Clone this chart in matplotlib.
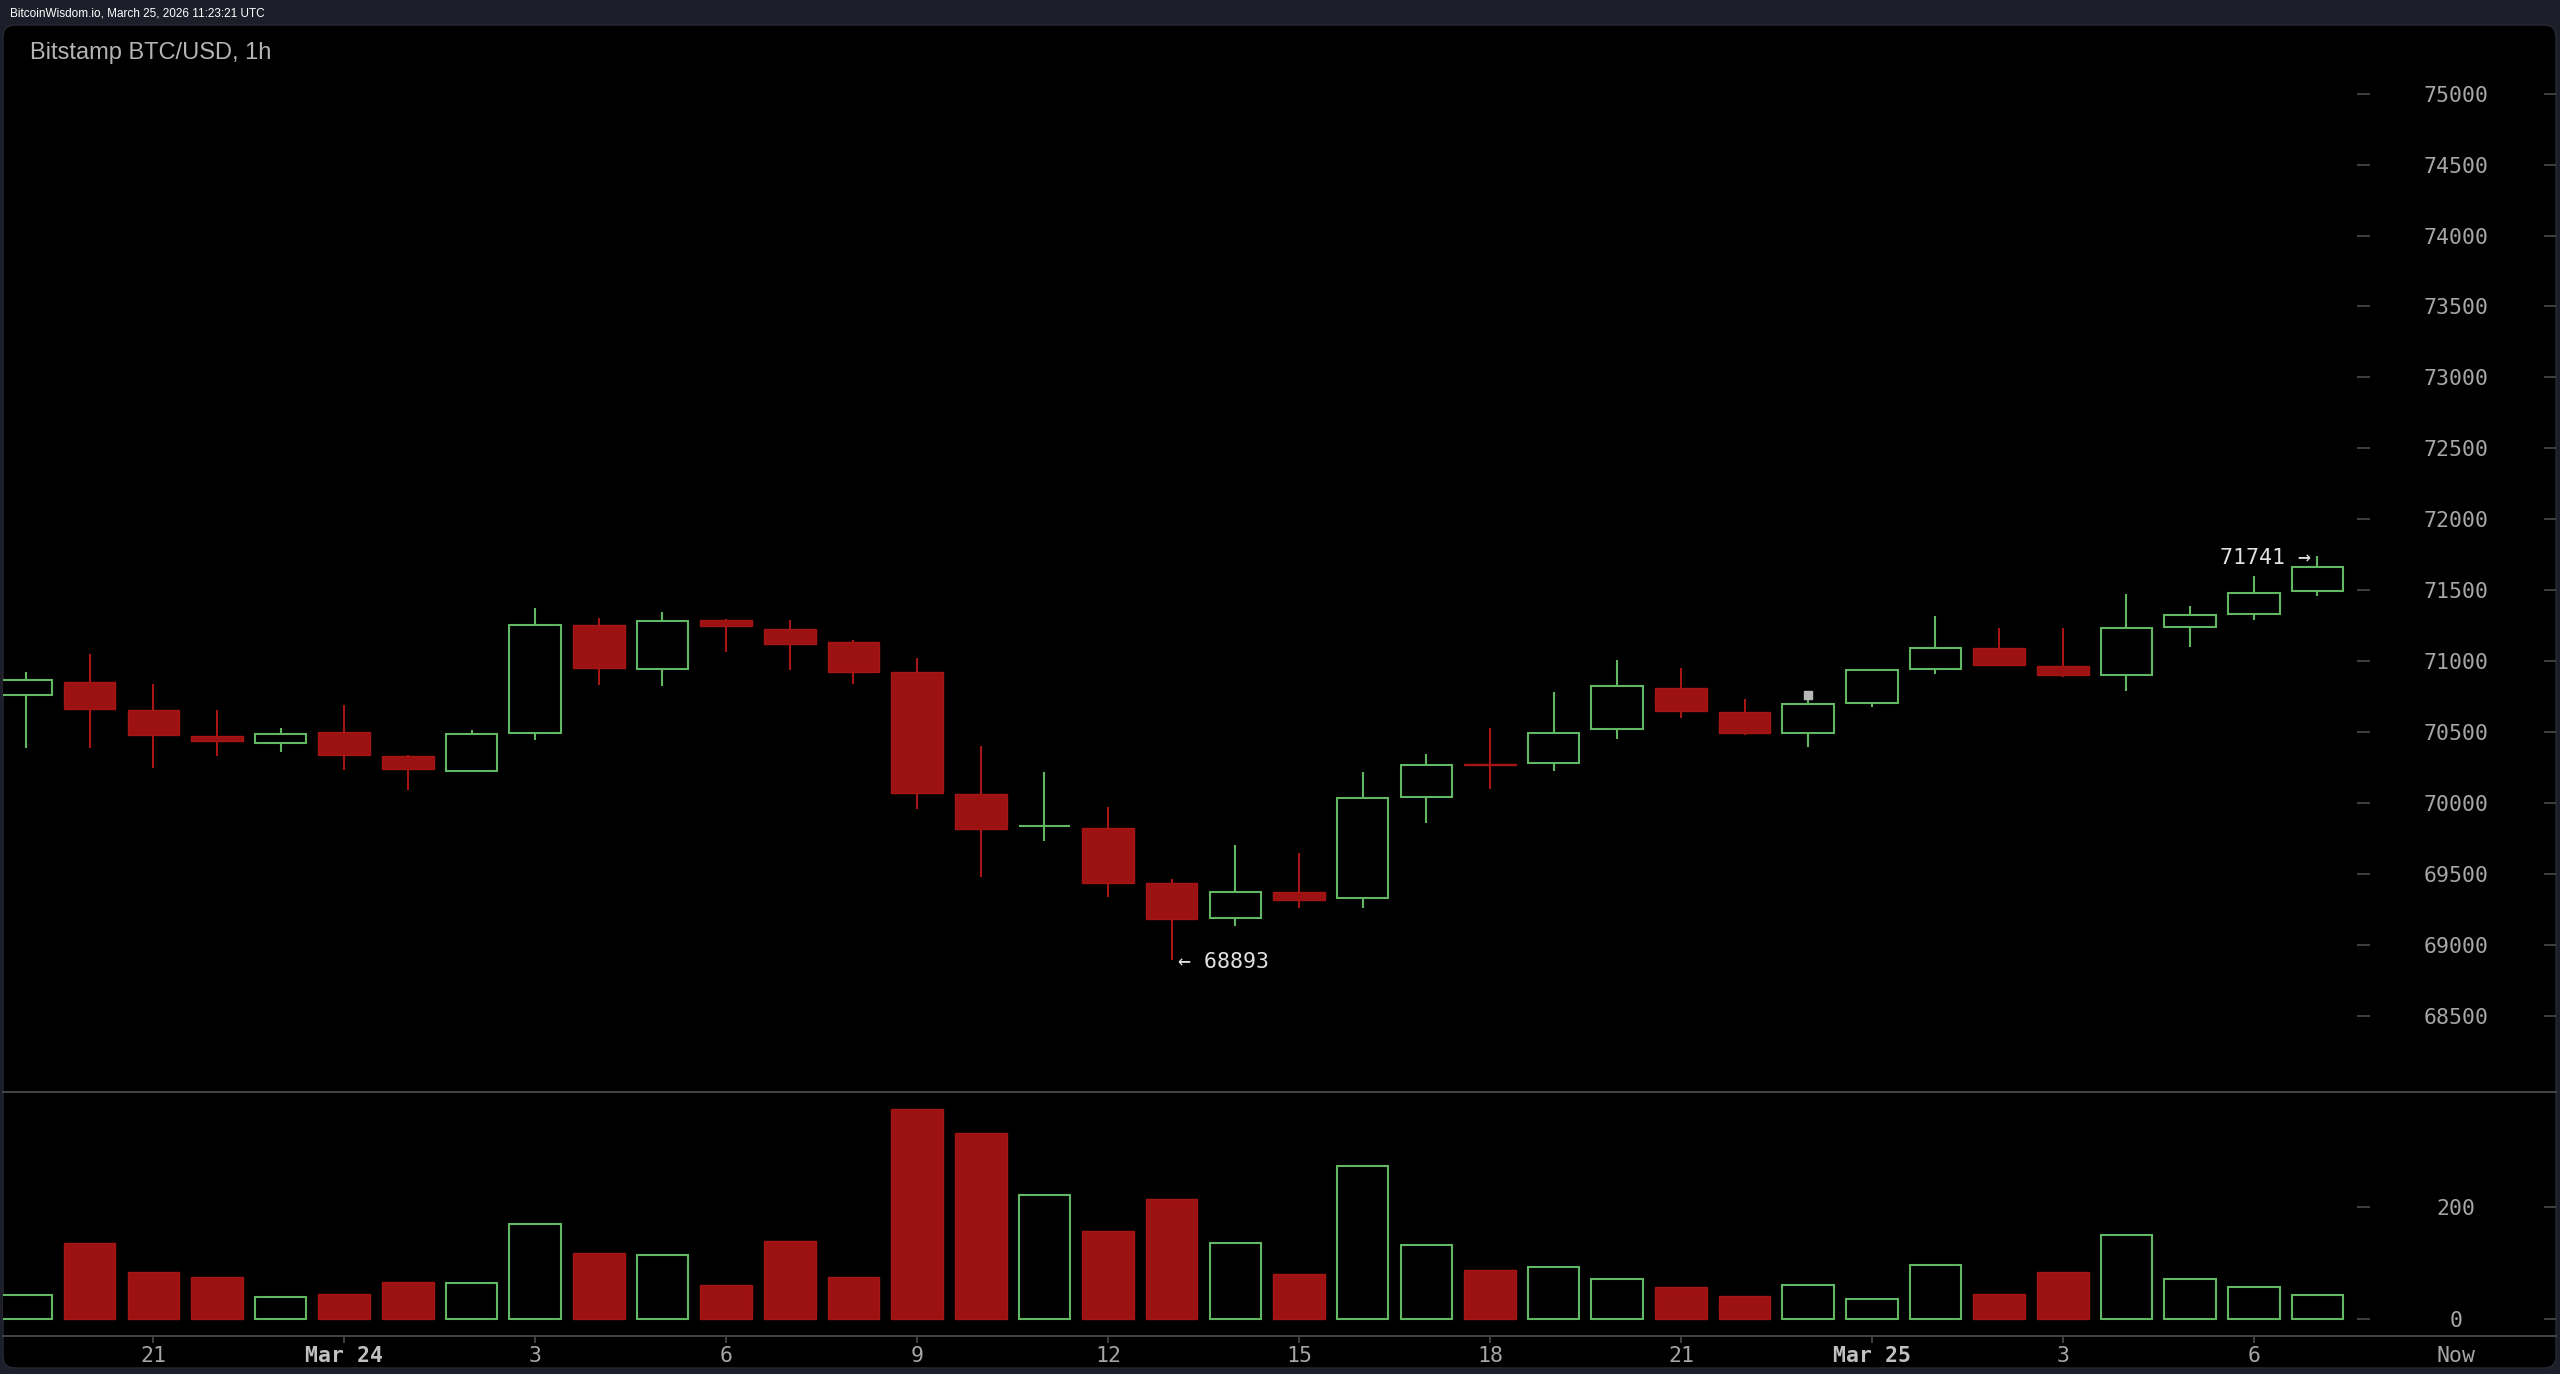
import matplotlib
matplotlib.use('Agg')
import matplotlib.pyplot as plt
import matplotlib.transforms as mtransforms
from matplotlib.patches import FancyBboxPatch
import numpy as np

# ---------------- data ----------------
opens = [70762, 70853, 70653, 70472, 70421, 70501, 70331, 70226, 70494, 71257,
         70945, 71290, 71229, 71133, 70921, 70064, 69835, 69826, 69434, 69187,
         69375, 69333, 70045, 70275, 70284, 70524, 70811, 70642, 70496, 70705,
         70945, 71091, 70966, 70905, 71239, 71335, 71493]
highs = [70926, 71053, 70841, 70658, 70531, 70689, 70335, 70515, 71372, 71302,
         71347, 71300, 71288, 71147, 71025, 70402, 70221, 69972, 69462, 69702,
         69645, 70221, 70346, 70531, 70783, 71011, 70955, 70731, 70729, 70936,
         71319, 71234, 71234, 71472, 71387, 71601, 71741]
lows = [70390, 70390, 70245, 70334, 70362, 70233, 70089, 70222, 70447, 70830,
        70827, 71065, 70938, 70841, 69956, 69479, 69732, 69340, 68893, 69133,
        69258, 69258, 69859, 70096, 70223, 70449, 70602, 70482, 70393, 70675,
        70912, 70965, 70886, 70788, 71098, 71293, 71460]
closes = [70865, 70660, 70477, 70435, 70484, 70336, 70237, 70484, 71257, 70954,
          71285, 71250, 71123, 70926, 70073, 69819, 69840, 69439, 69185, 69375,
          69314, 70033, 70270, 70265, 70496, 70825, 70649, 70494, 70696, 70936,
          71091, 70971, 70900, 71232, 71328, 71483, 71667]
volumes = [43, 136, 84, 76, 40, 45, 66, 65, 170, 118,
           115, 62, 140, 76, 373, 331, 220, 157, 214, 135,
           81, 273, 132, 87, 93, 72, 58, 41, 61, 36,
           97, 45, 84, 150, 72, 58, 43]

marker_idx = [28]
marker_price = [70764]

price_ticks = [68500, 69000, 69500, 70000, 70500, 71000, 71500,
               72000, 72500, 73000, 73500, 74000, 74500, 75000]
vol_ticks = [0, 200]
xtick_labels = ['21', 'Mar 24', '3', '6', '9', '12', '15', '18', '21',
                'Mar 25', '3', '6', 'Now']
bold_labels = ['Mar 24', 'Mar 25']

header_text = "BitcoinWisdom.io, March 25, 2026 11:23:21 UTC"
title_text = "Bitstamp BTC/USD, 1h"

# ---------------- style ----------------
W, H = 2560, 1374
BG = '#1c1f2a'
RED_FACE = '#9c1111'
RED_EDGE = '#a81515'
GREEN = '#62b862'
TEXT = '#a6a6a6'
GRID = '#4a4a4a'
MONO = 'DejaVu Sans Mono'

o = np.array(opens, float)
h = np.array(highs, float)
l = np.array(lows, float)
c = np.array(closes, float)
v = np.array(volumes, float)
N = len(o)
x = np.arange(N)
up = c >= o

XL, XR = -0.3614, 39.749
label_x = 38.18
xtick_pos = [2 + 3 * k for k in range(len(xtick_labels) - 1)] + [label_x]

fig = plt.figure(figsize=(W / 100, H / 100), dpi=100, facecolor=BG)

# background rounded panel
bg = fig.add_axes([0, 0, 1, 1])
bg.set_xlim(0, W)
bg.set_ylim(H, 0)
bg.axis('off')
r = 12
bg.add_patch(FancyBboxPatch((3 + r, 25 + r), 2553 - 2 * r, 1343 - 2 * r,
                            boxstyle='round,pad=%d' % r, fc='black',
                            ec='#272a35', lw=1))

def fyf(y):
    return 1 - y / H

# ---------------- price axes ----------------
axp = fig.add_axes([3 / W, fyf(1093), 2553 / W, (1093 - 26) / H])
axp.set_facecolor('none')
axp.set_xlim(XL, XR)
axp.set_ylim(67956, 75477)
for s in axp.spines.values():
    s.set_visible(False)
axp.set_xticks([])
axp.set_yticks([])

body_lo = np.minimum(o, c)
body_h = np.maximum(np.abs(c - o), 4)
bw = 0.81

axp.vlines(x[up], l[up], h[up], color=GREEN, lw=1.5, zorder=1)
axp.vlines(x[~up], l[~up], h[~up], color=RED_EDGE, lw=1.5, zorder=1)
axp.bar(x[up], body_h[up], bottom=body_lo[up], width=bw, facecolor='black',
        edgecolor=GREEN, linewidth=1.5, zorder=2)
axp.bar(x[~up], body_h[~up], bottom=body_lo[~up], width=bw, facecolor=RED_FACE,
        edgecolor=RED_EDGE, linewidth=1.0, zorder=2)

axp.scatter(marker_idx, marker_price, marker='s', s=40, color='#b8b8b8', zorder=3)

transp = mtransforms.blended_transform_factory(axp.transAxes, axp.transData)
a1, a2 = (2357 - 3) / 2553, (2370 - 3) / 2553
b1, b2 = (2544 - 3) / 2553, 1.0
axp.hlines(price_ticks, a1, a2, transform=transp, color=GRID, lw=1.2)
axp.hlines(price_ticks, b1, b2, transform=transp, color=GRID, lw=1.2)
for t in price_ticks:
    axp.text(label_x, t, str(t), ha='center', va='center_baseline', color=TEXT,
             family=MONO, fontsize=15.5)

hi_i = int(np.argmax(h))
lo_i = int(np.argmin(l))
axp.text(hi_i - 0.1, h[hi_i], "%d \u2192" % h[hi_i], ha='right',
         va='center_baseline', color='#e2e2e2', family=MONO, fontsize=15.5,
         zorder=4)
axp.text(lo_i + 0.1, l[lo_i], "\u2190 %d" % l[lo_i], ha='left',
         va='center_baseline', color='#e2e2e2', family=MONO, fontsize=15.5,
         zorder=4)

# ---------------- volume axes ----------------
axv = fig.add_axes([3 / W, fyf(1336), 2553 / W, (1336 - 1092) / H])
axv.set_facecolor('none')
axv.set_xlim(XL, XR)
axv.set_ylim(-29.3, 403.4)
axv.spines['left'].set_visible(False)
axv.spines['right'].set_visible(False)
for side in ('top', 'bottom'):
    axv.spines[side].set_color(GRID)
    axv.spines[side].set_linewidth(1.3)
axv.set_yticks([])

axv.bar(x[up], v[up], width=bw, facecolor='black', edgecolor=GREEN,
        linewidth=1.5, zorder=2)
axv.bar(x[~up], v[~up], width=bw, facecolor=RED_FACE, edgecolor=RED_EDGE,
        linewidth=1.0, zorder=2)

transv = mtransforms.blended_transform_factory(axv.transAxes, axv.transData)
axv.hlines(vol_ticks, a1, a2, transform=transv, color=GRID, lw=1.2)
axv.hlines(vol_ticks, b1, b2, transform=transv, color=GRID, lw=1.2)
for t in vol_ticks:
    axv.text(label_x, t, str(t), ha='center', va='center_baseline', color=TEXT,
             family=MONO, fontsize=15.5)

axv.set_xticks(xtick_pos)
axv.set_xticklabels(xtick_labels, family=MONO, fontsize=15.5, color=TEXT)
axv.tick_params(axis='x', direction='out', length=5, width=1.2, color=GRID, pad=2)
for lab in axv.get_xticklabels():
    if lab.get_text() in bold_labels:
        lab.set_fontweight('bold')
        lab.set_color('#c0c0c0')
axv.xaxis.get_major_ticks()[-1].tick1line.set_visible(False)

# ---------------- texts ----------------
fig.text(10 / W, fyf(13), header_text, fontsize=8.5, color='white',
         family='Liberation Sans', va='center', ha='left')
fig.text(30 / W, fyf(52.5), title_text, fontsize=17, color='#b4b4b4',
         family='Liberation Sans', va='center', ha='left')

fig.savefig('out.png', dpi=100, facecolor=BG)
